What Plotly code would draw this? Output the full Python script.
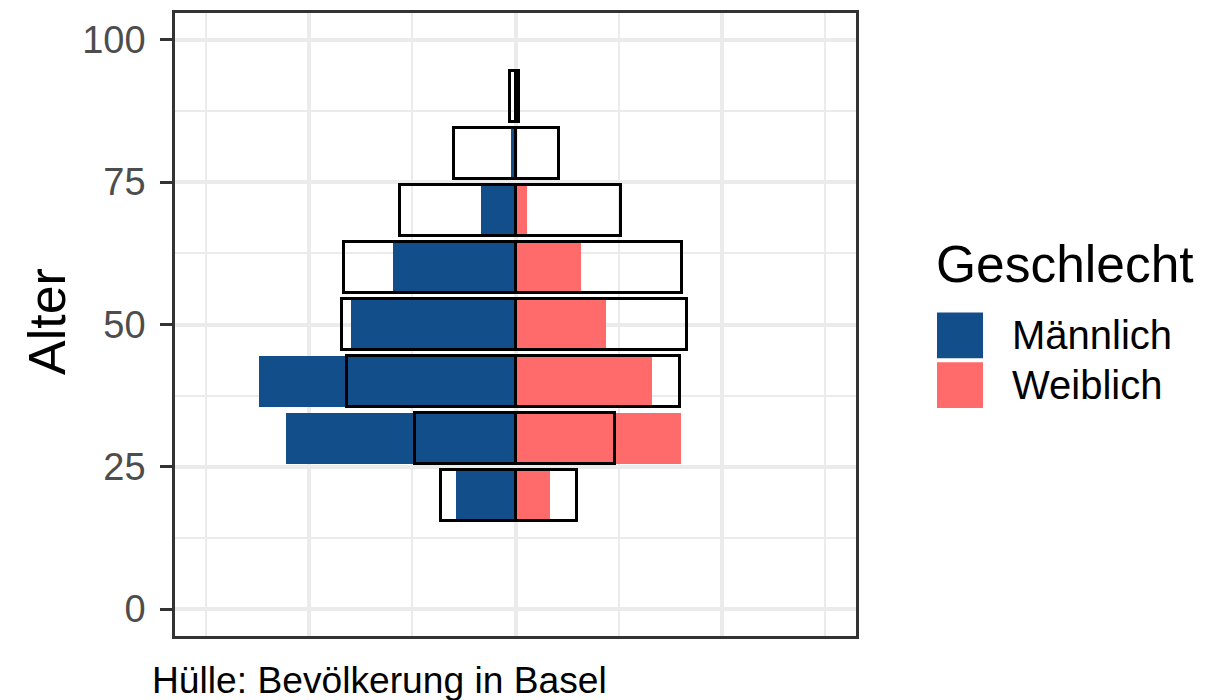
import plotly.graph_objects as go

# ---- data ----
alter = [20, 30, 40, 50, 60, 70, 80, 90]
maennlich = [2.9, 11.1, 12.45, 7.95, 5.95, 1.65, 0.2, 0.0]
weiblich = [1.65, 8.0, 6.6, 4.4, 3.15, 0.55, 0.0, 0.0]
huelle_maennlich = [3.6, 4.85, 8.15, 8.4, 8.3, 5.6, 2.98, 0.28]
huelle_weiblich = [3.0, 4.8, 7.95, 8.33, 8.05, 5.12, 2.12, 0.15]
legend_labels = ["Männlich", "Weiblich"]
farben = ["#124E89", "#FF6B6B"]
y_ticks = [0, 25, 50, 75, 100]

FONT = "Liberation Sans, Arial, Helvetica, sans-serif"
OFF = 8  # page body margin
W, H = 1223 - OFF, 700 - OFF
# panel edges in screen pixels
SL, SR, ST, SB = 175, 856, 10, 636
L, R, T, B = SL - OFF, SR - OFF, ST - OFF, SB - OFF


def px_x(px):
    return (px - SL) / (SR - SL)


def px_y(py):
    return (SB - py) / (SB - ST)


fig = go.Figure()

fig.add_trace(go.Bar(y=alter, x=[-v for v in maennlich], orientation="h", width=9,
                     marker=dict(color=farben[0], line=dict(width=0)),
                     name=legend_labels[0], showlegend=False))
fig.add_trace(go.Bar(y=alter, x=weiblich, orientation="h", width=9,
                     marker=dict(color=farben[1], line=dict(width=0)),
                     name=legend_labels[1], showlegend=False))
fig.add_trace(go.Bar(y=alter, x=[-v for v in huelle_maennlich], orientation="h", width=9,
                     marker=dict(color="rgba(0,0,0,0)", line=dict(width=3, color="black")),
                     showlegend=False))
fig.add_trace(go.Bar(y=alter, x=huelle_weiblich, orientation="h", width=9,
                     marker=dict(color="rgba(0,0,0,0)", line=dict(width=3, color="black")),
                     showlegend=False))

fig.update_layout(
    width=W, height=H,
    margin=dict(l=L, r=W - R, t=T, b=H - B, pad=0),
    paper_bgcolor="white", plot_bgcolor="white",
    barmode="overlay", bargap=0,
    showlegend=False,
    font=dict(family=FONT, color="black"),
)

fig.update_xaxes(
    range=[-16.5, 16.5], tick0=0, dtick=10, showticklabels=False, ticks="",
    showgrid=True, gridcolor="#EBEBEB", gridwidth=3.5, zeroline=False,
    minor=dict(tick0=0, dtick=5, showgrid=True, gridcolor="#EBEBEB", gridwidth=1.8),
    showline=True, linecolor="#333333", linewidth=2.5, mirror=True,
)
fig.update_yaxes(
    range=[-4.72, 104.72], tickvals=y_ticks, ticktext=[str(v) for v in y_ticks],
    ticks="outside", ticklen=12, tickwidth=3, tickcolor="#333333",
    tickfont=dict(size=38, color="#4D4D4D", family=FONT), ticklabelstandoff=7,
    showgrid=True, gridcolor="#EBEBEB", gridwidth=3.5, zeroline=False,
    minor=dict(tick0=0, dtick=12.5, showgrid=True, gridcolor="#EBEBEB", gridwidth=1.8),
    showline=True, linecolor="#333333", linewidth=2.5, mirror=True,
)

annotations = [
    dict(text="Alter", textangle=-90, x=px_x(46.5), y=px_y(320), xref="paper", yref="paper",
         xanchor="center", yanchor="middle", showarrow=False, font=dict(size=52, color="black")),
    dict(text="Geschlecht", x=px_x(934), y=px_y(262.5), xref="paper", yref="paper",
         xanchor="left", yanchor="middle", showarrow=False, font=dict(size=51.5, color="black")),
    dict(text="Hülle: Bevölkerung in Basel", x=px_x(150), y=px_y(680), xref="paper", yref="paper",
         xanchor="left", yanchor="middle", showarrow=False, font=dict(size=37.2, color="black")),
]
shapes = []
key_tops = [311, 361]
for lab, col, top in zip(legend_labels, farben, key_tops):
    shapes.append(dict(type="rect", xref="paper", yref="paper",
                       x0=px_x(937), x1=px_x(983), y0=px_y(top + 46), y1=px_y(top),
                       fillcolor=col, line=dict(width=0)))
    annotations.append(dict(text=lab, x=px_x(1010), y=px_y(top + 23), xref="paper", yref="paper",
                            xanchor="left", yanchor="middle", showarrow=False,
                            font=dict(size=40, color="black")))

fig.update_layout(annotations=annotations, shapes=shapes)

fig.write_html("out.html")
